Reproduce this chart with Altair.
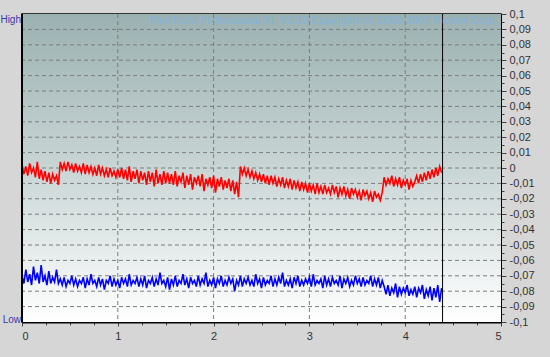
import altair as alt
import pandas as pd

# x positions of samples (0.00 .. 4.38, step 0.02)
x_vals = [round(i * 0.02, 2) for i in range(220)]

# red series, in thousandths
red_milli = [
    2, -4, 1, -5, 3, -3, 0, -6, 4, -7, -1, -8, -2, -9, -3, -10, -4, -8, -5, -11,
    4, -1, 3, -2, 4, -1, 2, -3, 3, -2, 1, -3, 3, -4, 2, -3, 1, -4, 0, -5,
    2, -4, 0, -5, -1, -6, 0, -5, -2, -6, -1,
    -6, 0, -7, -1, -8, 1, -9, -2, -7, -1, -10, -2, -8, -3, -11, -2, -9, -3, -12, -1,
    -10, -4, -11, -2, -10,
    -3, -10, -4, -11, -2, -12, -5, -9, -3, -13, -5, -11, -4, -14, -6, -10, -5, -12, -4, -15,
    -7, -11, -6, -13, -5, -16, -7, -12, -6, -14, -8, -13, -7, -15, -8, -17, -9, -19,
    1, -4, 0, -5, -1, -6, -2, -7, -3, -8, -4,
    -9, -4, -10, -5, -11, -5, -10, -6, -12, -7, -11, -6, -13, -8, -12, -7, -14, -8, -13, -9,
    -15, -9, -14, -10, -16, -10, -15, -11, -17, -10, -16, -12, -17, -11, -16, -13,
    -17, -11, -16, -12, -19, -13, -17, -12, -18, -14, -20, -13, -17, -14, -19, -15, -21, -14, -18, -15,
    -20, -16, -22, -15, -19, -17, -21, -16,
    -6, -11, -7, -10, -5, -12, -7, -11, -6, -13, -8, -11, -7, -14, -8, -12, -9,
    -5, -10, -4, -9, -3, -8, -2, -7, -1, -6, 0, -5, 1, -3,
]

# blue series, in thousandths
blue_milli = [
    -70, -75, -66, -74, -69, -76, -64, -73, -68, -75, -63, -74, -70, -76, -67, -75, -71, -74, -66, -75,
    -72, -76, -71, -77, -73, -75, -70, -76, -72, -77,
    -73, -75, -71, -78, -72, -76, -69, -75, -73, -77,
    -71, -76, -72, -79, -73, -75, -70, -77, -72, -76,
    -73, -78, -71, -75, -72, -77, -69, -76, -73, -75,
    -71, -77, -72, -76, -70, -78, -73, -75, -71, -77,
    -72, -76, -68, -75, -73, -77, -71, -79, -72, -76,
    -70, -77, -73, -75, -69, -76, -72, -78, -71, -75,
    -73, -77, -70, -76, -72, -75, -68, -77, -73, -76,
    -71, -78, -72, -75, -70, -77, -73, -76, -71, -75,
    -72, -80, -73, -76, -70, -77, -72, -75, -71, -76,
    -73, -77, -69, -75, -72, -78, -71, -76, -73, -75,
    -70, -77, -72, -76, -71, -75, -68, -77, -73, -76,
    -72, -78, -71, -75, -70, -77, -73, -76, -72, -75,
    -71, -77, -69, -76, -73, -75, -72, -78, -70, -76,
    -72, -77, -71, -75, -73, -76, -70, -78, -72, -75,
    -71, -77, -73, -76, -70, -75, -72, -77, -71, -76,
    -73, -75, -70, -77, -72, -76, -71, -78, -73,
    -77, -82, -76, -83, -78, -81, -75, -84, -77, -82,
    -78, -81, -76, -83, -79, -82, -77, -84, -78, -81,
    -76, -85, -79, -83, -77, -86, -78, -84, -76, -87, -78,
]

x_ticks = [0, 1, 2, 3, 4, 5]
x_grid = [1, 2, 3, 4]
x_minor = [0.25 * i for i in range(21)]
y_ticks = [round(-0.1 + 0.01 * i, 2) for i in range(21)]
y_grid = [round(-0.09 + 0.01 * i, 2) for i in range(19)]
y_minor = [round(-0.1 + 0.005 * i, 3) for i in range(41)]
end_marker = [4.39]
title_text = "PlexTools Professional XL V3.13  Copyright (c) 2003-2007 Plextor Corp."
side_labels = ["High", "Low"]

W, H = 479, 308

df = pd.DataFrame({
    "x": x_vals * 2,
    "y": [v / 1000 for v in red_milli] + [v / 1000 for v in blue_milli],
    "s": ["red"] * len(x_vals) + ["blue"] * len(x_vals),
})

xs = alt.Scale(domain=[0, 5], nice=False, zero=False)
ys = alt.Scale(domain=[-0.1, 0.1], nice=False, zero=False)

label_expr = "replace(replace(format(datum.value, '.2~f'), '.', ','), '\u2212', '-')"
one = pd.DataFrame({"a": [0]})

bg = alt.Chart(one).mark_rect(
    color=alt.Gradient(
        gradient="linear",
        stops=[alt.GradientStop(color="#9bb1b1", offset=0),
               alt.GradientStop(color="#c9d5d5", offset=0.5),
               alt.GradientStop(color="#ffffff", offset=1)],
        x1=0, x2=0, y1=0, y2=1,
    )
).encode(x=alt.value(0), x2=alt.value(W), y=alt.value(0), y2=alt.value(H))

vgrid = alt.Chart(pd.DataFrame({"x": x_grid})).mark_rule(
    color="#7d7d7d", strokeDash=[4, 3], strokeWidth=1
).encode(x=alt.X("x:Q", scale=xs, axis=None))

hgrid = alt.Chart(pd.DataFrame({"y": y_grid})).mark_rule(
    color="#7d7d7d", strokeDash=[4, 3], strokeWidth=1
).encode(y=alt.Y("y:Q", scale=ys, axis=None))

axes = alt.Chart(one).mark_point(opacity=0).encode(
    x=alt.X("a:Q", scale=xs, axis=alt.Axis(
        values=x_ticks, grid=False, orient="bottom", domain=True, domainColor="black",
        domainWidth=2, ticks=True, tickColor="#444444", tickSize=4, labelFontSize=11,
        labelColor="#333333", labelFont="Liberation Sans", labelPadding=4,
        format="d", title=None)),
    y=alt.Y("a:Q", scale=ys, axis=alt.Axis(
        values=y_ticks, grid=False, orient="right", domain=True, domainColor="black",
        domainWidth=1, ticks=True, tickColor="#444444", tickSize=5, labelFontSize=11,
        labelColor="#333333", labelFont="Liberation Sans", labelPadding=3,
        labelExpr=label_expr, title=None)),
)

minor = alt.Chart(one).mark_point(opacity=0).encode(
    x=alt.X("a:Q", scale=xs, axis=alt.Axis(
        values=x_minor, grid=False, orient="bottom", domain=False, labels=False,
        ticks=True, tickColor="#444444", tickSize=3, title=None)),
    y=alt.Y("a:Q", scale=ys, axis=alt.Axis(
        values=y_minor, grid=False, orient="right", domain=False, labels=False,
        ticks=True, tickColor="#444444", tickSize=3, title=None)),
)

lines = alt.Chart(df).mark_line(strokeWidth=1.6, clip=True).encode(
    x=alt.X("x:Q", scale=xs, axis=None),
    y=alt.Y("y:Q", scale=ys, axis=None),
    color=alt.Color("s:N", scale=alt.Scale(domain=["red", "blue"], range=["#ff0000", "#0000ff"]), legend=None),
    detail="s:N",
)

marker = alt.Chart(pd.DataFrame({"x": end_marker})).mark_rule(color="black", strokeWidth=1).encode(
    x=alt.X("x:Q", scale=xs, axis=None)
)

leftedge = alt.Chart(one).mark_rule(color="black", strokeWidth=2).encode(
    x=alt.value(0), y=alt.value(0), y2=alt.value(H)
)

title = alt.Chart(pd.DataFrame({"t": [title_text]})).mark_text(
    align="right", baseline="middle", fontSize=11, font="Liberation Sans", color="#86b3dc"
).encode(text="t:N", x=alt.value(W - 4), y=alt.value(7))

high = alt.Chart(pd.DataFrame({"t": [side_labels[0]]})).mark_text(
    align="right", baseline="middle", fontSize=10, font="Liberation Sans", color="#3a3aa8"
).encode(text="t:N", x=alt.value(-1), y=alt.value(6))

low = alt.Chart(pd.DataFrame({"t": [side_labels[1]]})).mark_text(
    align="right", baseline="middle", fontSize=10, font="Liberation Sans", color="#3a3aa8"
).encode(text="t:N", x=alt.value(-1), y=alt.value(H - 2))

chart = alt.layer(bg, vgrid, hgrid, minor, axes, lines, marker, leftedge, title, high, low).resolve_axis(
    x="independent", y="independent"
).properties(
    width=W, height=H,
    autosize=alt.AutoSizeParams(type="none"),
    padding={"left": 22, "top": 14, "right": 49, "bottom": 35},
    background="#d6d6d6",
).configure_view(stroke="black", strokeWidth=1.5)

chart.save("out.html", embed_options={"renderer": "svg", "actions": False})
